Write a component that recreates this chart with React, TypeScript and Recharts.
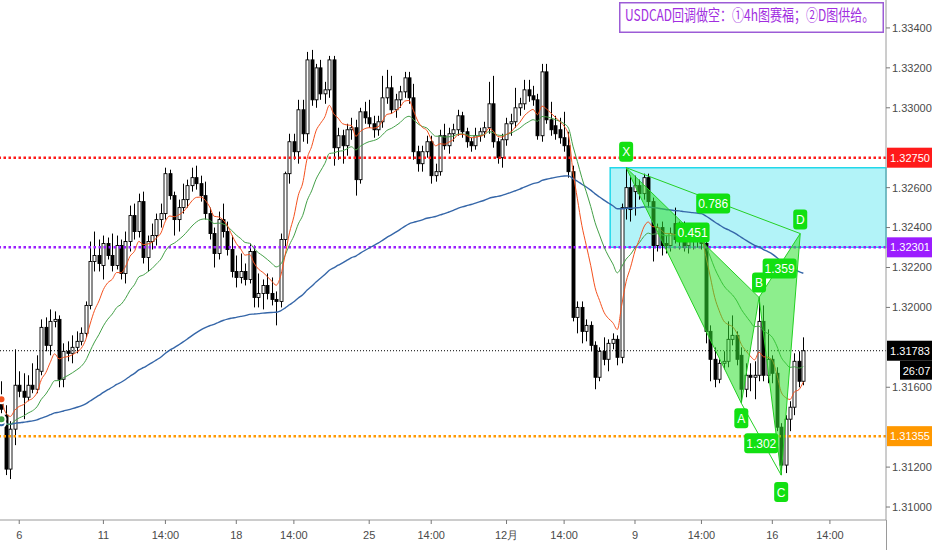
import React from 'react';
import {
  ComposedChart,
  XAxis,
  YAxis,
  Bar,
  Line,
  Scatter,
  ReferenceLine,
  ReferenceArea,
} from 'recharts';

// USDCAD 4h candles
const opens = [
  1.3155, 1.3146, 1.3119, 1.3139, 1.3161, 1.3158, 1.3155, 1.3161, 1.3159, 1.3168,
  1.3190, 1.3181, 1.3193, 1.3194, 1.3164, 1.3178, 1.3177, 1.3180, 1.3183, 1.3187,
  1.3201, 1.3223, 1.3226, 1.3221, 1.3232, 1.3226, 1.3221, 1.3231, 1.3217, 1.3233,
  1.3246, 1.3238, 1.3253, 1.3225, 1.3233, 1.3236, 1.3244, 1.3247, 1.3267, 1.3256,
  1.3244, 1.3250, 1.3254, 1.3261, 1.3265, 1.3262, 1.3256, 1.3247, 1.3237, 1.3227,
  1.3244, 1.3238, 1.3229, 1.3218, 1.3215, 1.3218, 1.3214, 1.3228, 1.3205, 1.3207,
  1.3211, 1.3207, 1.3204, 1.3203, 1.3234, 1.3267, 1.3283, 1.3278, 1.3299, 1.3287,
  1.3324, 1.3304, 1.3320, 1.3307, 1.3309, 1.3324, 1.3280, 1.3286, 1.3281, 1.3289,
  1.3290, 1.3264, 1.3298, 1.3295, 1.3292, 1.3289, 1.3293, 1.3305, 1.3310, 1.3299,
  1.3304, 1.3308, 1.3315, 1.3305, 1.3278, 1.3272, 1.3278, 1.3283, 1.3266, 1.3268,
  1.3286, 1.3281, 1.3287, 1.3289, 1.3296, 1.3288, 1.3283, 1.3281, 1.3286, 1.3288,
  1.3290, 1.3302, 1.3283, 1.3275, 1.3284, 1.3292, 1.3293, 1.3300, 1.3302, 1.3309,
  1.3306, 1.3304, 1.3286, 1.3318, 1.3294, 1.3291, 1.3289, 1.3285, 1.3281, 1.3268,
  1.3195, 1.3200, 1.3188, 1.3191, 1.3181, 1.3165, 1.3178, 1.3174, 1.3182, 1.3184,
  1.3175, 1.3250, 1.3260, 1.3258, 1.3261, 1.3257, 1.3265, 1.3253, 1.3231, 1.3240,
  1.3232, 1.3231, 1.3242, 1.3234, 1.3240, 1.3231, 1.3238, 1.3233, 1.3238, 1.3232,
  1.3188, 1.3174, 1.3164, 1.3172, 1.3173, 1.3184, 1.3186, 1.3176, 1.3159, 1.3166,
  1.3165, 1.3166, 1.3193, 1.3166, 1.3174, 1.3167, 1.3140, 1.3121, 1.3144, 1.3150,
  1.3173, 1.3163,
];
const highs = [
  1.3163, 1.3151, 1.3143, 1.3179, 1.3168, 1.3167, 1.3166, 1.3172, 1.3176, 1.3194,
  1.3195, 1.3199, 1.3198, 1.3196, 1.3182, 1.3183, 1.3186, 1.3188, 1.3190, 1.3203,
  1.3233, 1.3238, 1.3234, 1.3236, 1.3235, 1.3237, 1.3236, 1.3234, 1.3238, 1.3251,
  1.3252, 1.3257, 1.3258, 1.3236, 1.3242, 1.3247, 1.3252, 1.3270, 1.3269, 1.3258,
  1.3254, 1.3262, 1.3264, 1.3270, 1.3271, 1.3266, 1.3263, 1.3250, 1.3240, 1.3248,
  1.3252, 1.3243, 1.3236, 1.3226, 1.3227, 1.3222, 1.3232, 1.3231, 1.3217, 1.3214,
  1.3217, 1.3215, 1.3208, 1.3237, 1.3268, 1.3287, 1.3287, 1.3304, 1.3304, 1.3328,
  1.3329, 1.3322, 1.3324, 1.3313, 1.3326, 1.3326, 1.3290, 1.3289, 1.3292, 1.3295,
  1.3294, 1.3300, 1.3303, 1.3304, 1.3296, 1.3296, 1.3316, 1.3319, 1.3316, 1.3307,
  1.3311, 1.3318, 1.3318, 1.3312, 1.3281, 1.3281, 1.3286, 1.3286, 1.3272, 1.3289,
  1.3292, 1.3290, 1.3292, 1.3299, 1.3298, 1.3290, 1.3285, 1.3290, 1.3290, 1.3293,
  1.3313, 1.3316, 1.3285, 1.3287, 1.3295, 1.3297, 1.3310, 1.3305, 1.3314, 1.3314,
  1.3311, 1.3307, 1.3322, 1.3322, 1.3303, 1.3296, 1.3295, 1.3298, 1.3288, 1.3271,
  1.3203, 1.3203, 1.3194, 1.3193, 1.3183, 1.3180, 1.3185, 1.3184, 1.3187, 1.3186,
  1.3252, 1.3270, 1.3266, 1.3266, 1.3264, 1.3267, 1.3267, 1.3255, 1.3242, 1.3243,
  1.3236, 1.3240, 1.3250, 1.3243, 1.3243, 1.3241, 1.3241, 1.3241, 1.3240, 1.3234,
  1.3191, 1.3180, 1.3174, 1.3178, 1.3193, 1.3196, 1.3188, 1.3180, 1.3172, 1.3172,
  1.3173, 1.3205, 1.3201, 1.3189, 1.3176, 1.3170, 1.3142, 1.3146, 1.3153, 1.3177,
  1.3178, 1.3185,
];
const lows = [
  1.3147, 1.3116, 1.3114, 1.3131, 1.3155, 1.3144, 1.3153, 1.3157, 1.3157, 1.3166,
  1.3178, 1.3176, 1.3190, 1.3160, 1.3160, 1.3173, 1.3172, 1.3177, 1.3181, 1.3185,
  1.3199, 1.3218, 1.3218, 1.3214, 1.3224, 1.3218, 1.3219, 1.3214, 1.3212, 1.3228,
  1.3234, 1.3235, 1.3222, 1.3218, 1.3229, 1.3231, 1.3240, 1.3244, 1.3254, 1.3236,
  1.3238, 1.3247, 1.3250, 1.3258, 1.3259, 1.3253, 1.3244, 1.3234, 1.3220, 1.3224,
  1.3235, 1.3226, 1.3215, 1.3210, 1.3212, 1.3211, 1.3212, 1.3200, 1.3200, 1.3199,
  1.3204, 1.3201, 1.3191, 1.3200, 1.3230, 1.3262, 1.3274, 1.3272, 1.3283, 1.3282,
  1.3301, 1.3300, 1.3304, 1.3302, 1.3305, 1.3271, 1.3274, 1.3272, 1.3276, 1.3284,
  1.3256, 1.3262, 1.3292, 1.3290, 1.3285, 1.3286, 1.3290, 1.3302, 1.3297, 1.3295,
  1.3300, 1.3305, 1.3302, 1.3274, 1.3268, 1.3268, 1.3275, 1.3262, 1.3263, 1.3266,
  1.3279, 1.3277, 1.3283, 1.3286, 1.3285, 1.3280, 1.3278, 1.3279, 1.3283, 1.3285,
  1.3287, 1.3280, 1.3272, 1.3270, 1.3281, 1.3286, 1.3290, 1.3296, 1.3299, 1.3303,
  1.3301, 1.3284, 1.3283, 1.3292, 1.3286, 1.3284, 1.3282, 1.3278, 1.3265, 1.3193,
  1.3187, 1.3182, 1.3183, 1.3178, 1.3159, 1.3163, 1.3171, 1.3168, 1.3179, 1.3171,
  1.3172, 1.3244, 1.3243, 1.3246, 1.3254, 1.3254, 1.3250, 1.3223, 1.3228, 1.3226,
  1.3227, 1.3228, 1.3232, 1.3229, 1.3228, 1.3227, 1.3229, 1.3230, 1.3229, 1.3182,
  1.3163, 1.3160, 1.3162, 1.3169, 1.3170, 1.3181, 1.3171, 1.3152, 1.3155, 1.3158,
  1.3154, 1.3163, 1.3163, 1.3162, 1.3162, 1.3138, 1.3116, 1.3117, 1.3138, 1.3146,
  1.3160, 1.3161,
];
const closes = [
  1.3149, 1.3119, 1.3139, 1.3161, 1.3158, 1.3155, 1.3161, 1.3159, 1.3169, 1.3190,
  1.3181, 1.3193, 1.3194, 1.3164, 1.3178, 1.3177, 1.3180, 1.3183, 1.3187, 1.3201,
  1.3223, 1.3226, 1.3222, 1.3232, 1.3226, 1.3221, 1.3231, 1.3217, 1.3233, 1.3246,
  1.3238, 1.3253, 1.3225, 1.3233, 1.3236, 1.3244, 1.3247, 1.3267, 1.3256, 1.3244,
  1.3250, 1.3254, 1.3261, 1.3265, 1.3262, 1.3256, 1.3247, 1.3237, 1.3227, 1.3244,
  1.3238, 1.3229, 1.3218, 1.3215, 1.3218, 1.3214, 1.3228, 1.3205, 1.3207, 1.3211,
  1.3207, 1.3204, 1.3203, 1.3234, 1.3267, 1.3283, 1.3278, 1.3299, 1.3287, 1.3324,
  1.3304, 1.3320, 1.3307, 1.3309, 1.3324, 1.3280, 1.3286, 1.3281, 1.3289, 1.3290,
  1.3264, 1.3298, 1.3295, 1.3292, 1.3289, 1.3293, 1.3305, 1.3310, 1.3299, 1.3304,
  1.3308, 1.3315, 1.3305, 1.3278, 1.3272, 1.3278, 1.3283, 1.3266, 1.3268, 1.3286,
  1.3281, 1.3287, 1.3289, 1.3296, 1.3288, 1.3283, 1.3281, 1.3286, 1.3288, 1.3290,
  1.3302, 1.3283, 1.3275, 1.3284, 1.3292, 1.3293, 1.3300, 1.3302, 1.3309, 1.3306,
  1.3304, 1.3286, 1.3318, 1.3294, 1.3289, 1.3287, 1.3285, 1.3281, 1.3268, 1.3195,
  1.3200, 1.3188, 1.3191, 1.3181, 1.3165, 1.3178, 1.3174, 1.3182, 1.3184, 1.3175,
  1.3250, 1.3260, 1.3249, 1.3261, 1.3257, 1.3265, 1.3253, 1.3231, 1.3240, 1.3231,
  1.3231, 1.3237, 1.3234, 1.3240, 1.3230, 1.3237, 1.3233, 1.3237, 1.3232, 1.3188,
  1.3174, 1.3164, 1.3172, 1.3173, 1.3184, 1.3186, 1.3174, 1.3159, 1.3166, 1.3165,
  1.3166, 1.3193, 1.3166, 1.3174, 1.3167, 1.3140, 1.3121, 1.3144, 1.3150, 1.3173,
  1.3163, 1.31783,
];

// moving averages: periods, and their values at the left edge of the picture
const maPeriods = [9, 20, 100];
const maSeeds = [1.3154, 1.3144, 1.3142];

const xTickIndex = [4, 23, 37, 53, 66, 83, 97, 114, 127, 143, 158, 174, 187];
const xTickLabels = ['6', '11', '14:00', '18', '14:00', '25', '14:00', '12月', '14:00', '9', '14:00', '16', '14:00'];
// 1.314, 1.318 and 1.328 sit under the price tags
const yTicks = [1.31, 1.312, 1.316, 1.32, 1.322, 1.324, 1.326, 1.33, 1.332, 1.334];

const levelPrices = [1.3275, 1.32301, 1.31783, 1.31355];
const countdown = '26:07';

// supply zone
const zoneStart = 137.4;
const zoneTop = 1.327;
const zoneBottom = 1.32301;

// harmonic pattern
const patternNames = ['X', 'A', 'B', 'C', 'D'];
const patternIndex = [141, 167, 171, 176, 180.3];
const patternPrice = [1.327, 1.3152, 1.3205, 1.3116, 1.3237];
const ratioLabels = ['0.451', '1.302', '1.359', '0.786'];
const ratioPairs = [[0, 2], [1, 3], [2, 4], [0, 4]];

const title = 'USDCAD回调做空：①4h图赛福；②D图供给。';

const X_DOMAIN = [-0.34, 199.66];
const Y_DOMAIN = [1.30935, 1.3354];

const levelColors = ['#ff1a1a', '#9b1dff', '#000000', '#ff9800'];
const levelWidths = [2.5, 2.5, 1, 2.5];
const letterShift = [-16, 15, -15, 17, -14];
const ratioShift = [0, 4, 3, 3];

function ema(values: number[], period: number, seed: number) {
  const k = 2 / (period + 1);
  let prev = seed;
  return values.map((v, idx) => {
    if (idx > 0) prev = prev + k * (v - prev);
    return prev;
  });
}

const fastMa = ema(closes, maPeriods[0], maSeeds[0]);
const midMa = ema(closes, maPeriods[1], maSeeds[1]);
const slowMa = ema(closes, maPeriods[2], maSeeds[2]);

const rows = closes.map((c, i) => ({
  i,
  open: opens[i],
  high: highs[i],
  low: lows[i],
  close: c,
  fast: fastMa[i],
  mid: midMa[i],
  slow: slowMa[i],
}));

const pt = (k: number) => ({ i: patternIndex[k], p: patternPrice[k] });
const triXAB = [pt(0), pt(1), pt(2)];
const triBCD = [pt(2), pt(3), pt(4)];
const lineXD = [pt(0), pt(4)];
const lineAC = [pt(1), pt(3)];
const letterPoints = patternNames.map((name, k) => ({ ...pt(k), text: name, shift: letterShift[k] }));
const ratioPoints = ratioLabels.map((text, k) => {
  const [a, b] = ratioPairs[k];
  return {
    i: (patternIndex[a] + patternIndex[b]) / 2,
    p: (patternPrice[a] + patternPrice[b]) / 2,
    text,
    shift: ratioShift[k],
  };
});

const Candle = (props: any) => {
  const { x, y, width, height, payload } = props;
  if (x == null || payload == null) return null;
  const top = Math.min(y, y + height);
  const h = Math.abs(height);
  const span = payload.high - payload.low || 1e-9;
  const py = (v: number) => top + ((payload.high - v) / span) * h;
  const cx = Math.round(x + width / 2) + 0.5;
  const up = payload.close >= payload.open;
  const bTop = py(Math.max(payload.open, payload.close));
  const bBot = py(Math.min(payload.open, payload.close));
  return (
    <g>
      <line x1={cx} x2={cx} y1={top} y2={top + h} stroke="#000" strokeWidth={1} />
      <rect
        x={cx - 1.5}
        y={bTop}
        width={3}
        height={Math.max(bBot - bTop, 1)}
        fill={up ? '#fff' : '#000'}
        stroke="#000"
        strokeWidth={0.9}
      />
    </g>
  );
};

const PriceTag = (props: any) => {
  const { viewBox, text, bg, sub } = props;
  if (!viewBox) return null;
  const x = viewBox.x + viewBox.width;
  const y = viewBox.y;
  return (
    <g>
      <rect x={x + 1} y={y - 10} width={46} height={20} fill={bg} />
      <text x={x + 24} y={y + 4} textAnchor="middle" fill="#fff" fontSize={11} fontFamily="Liberation Sans">
        {text}
      </text>
      {sub && (
        <g>
          <rect x={x + 14} y={y + 10} width={33} height={19} fill="#000" />
          <text x={x + 30.5} y={y + 24} textAnchor="middle" fill="#fff" fontSize={11} fontFamily="Liberation Sans">
            {sub}
          </text>
        </g>
      )}
    </g>
  );
};

const polygonLine = (lp: any) => {
  const pts = (lp.points || []).map((q: any) => `${q.x},${q.y}`).join(' ');
  return <polygon points={pts} fill="#2fe02f" fillOpacity={0.55} stroke="#24d024" strokeWidth={1} />;
};

const TagBox = (w: number) => (props: any) => {
  const { cx, cy, payload } = props;
  if (cx == null) return <g />;
  const yc = cy + payload.shift;
  return (
    <g>
      <rect x={cx - w / 2} y={yc - 10} width={w} height={20} rx={3} fill="#12e012" />
      <text x={cx} y={yc + 4.5} textAnchor="middle" fill="#fff" fontSize={12} fontFamily="Liberation Sans">
        {payload.text}
      </text>
    </g>
  );
};

const hidden = () => <g />;

export default function App() {
  return (
    <div style={{ position: 'relative', width: 932, height: 550, background: '#fff' }}>
      <style>{'body{margin:0;background:#fff}'}</style>
      <ComposedChart width={932} height={550} data={rows} margin={{ top: 0, right: 0, bottom: 0, left: 0 }}>
        <XAxis
          dataKey="i"
          type="number"
          domain={X_DOMAIN}
          allowDataOverflow
          ticks={xTickIndex}
          interval={0}
          tickFormatter={(v: number) => xTickLabels[xTickIndex.indexOf(v)] ?? ''}
          height={30}
          tickSize={4}
          tickMargin={7}
          tick={{ fontSize: 11, fill: '#4a4a4a', fontFamily: 'Liberation Sans' }}
          axisLine={{ stroke: '#9a9a9a' }}
          tickLine={{ stroke: '#777' }}
        />
        <YAxis
          orientation="right"
          type="number"
          domain={Y_DOMAIN}
          allowDataOverflow
          ticks={yTicks}
          interval={0}
          tickFormatter={(v: number) => v.toFixed(5)}
          width={46}
          tickSize={4}
          tick={{ fontSize: 11, fill: '#4a4a4a', fontFamily: 'Liberation Sans' }}
          axisLine={{ stroke: '#9a9a9a' }}
          tickLine={{ stroke: '#777' }}
        />
        <ReferenceArea
          x1={zoneStart}
          x2={X_DOMAIN[1]}
          y1={zoneBottom}
          y2={zoneTop}
          fill="#00d8e8"
          fillOpacity={0.3}
          stroke="#22d8ea"
          strokeWidth={1.5}
          ifOverflow="visible"
        />
        {levelPrices.map((p, k) => (
          <ReferenceLine
            key={p}
            y={p}
            stroke={levelColors[k]}
            strokeWidth={levelWidths[k]}
            strokeDasharray={k === 2 ? '1 2' : '2.5 2.5'}
            ifOverflow="visible"
            label={<PriceTag text={p.toFixed(5)} bg={levelColors[k]} sub={k === 2 ? countdown : undefined} />}
          />
        ))}
        <Bar dataKey={(d: any) => [d.low, d.high]} barSize={3} shape={Candle} isAnimationActive={false} />
        <Line dataKey="slow" type="monotone" stroke="#3566a8" strokeWidth={1.4} dot={false} isAnimationActive={false} />
        <Line dataKey="mid" type="monotone" stroke="#43a047" strokeWidth={1} dot={false} isAnimationActive={false} />
        <Line dataKey="fast" type="monotone" stroke="#f4511e" strokeWidth={1} dot={false} isAnimationActive={false} />
        <Scatter data={triXAB} dataKey="p" line={polygonLine} lineType="joint" shape={hidden} isAnimationActive={false} />
        <Scatter data={triBCD} dataKey="p" line={polygonLine} lineType="joint" shape={hidden} isAnimationActive={false} />
        <Scatter data={lineXD} dataKey="p" line={{ stroke: '#24d024', strokeWidth: 1 }} lineType="joint" shape={hidden} isAnimationActive={false} />
        <Scatter data={lineAC} dataKey="p" line={{ stroke: '#24d024', strokeWidth: 1 }} lineType="joint" shape={hidden} isAnimationActive={false} />
        <Scatter data={ratioPoints} dataKey="p" shape={TagBox(34)} isAnimationActive={false} />
        <Scatter data={letterPoints} dataKey="p" shape={TagBox(14)} isAnimationActive={false} />
      </ComposedChart>
      <div style={{ position: 'absolute', left: 886, top: 520, width: 1, height: 30, background: '#9a9a9a' }} />
      <svg style={{ position: 'absolute', left: 619, top: 0 }} width={266} height={40}>
        <rect x={0.75} y={2.75} width={263.5} height={29.5} fill="#fff" stroke="#9c5cd6" strokeWidth={1.5} />
        <text
          x={6}
          y={16}
          transform="translate(0,0.7) scale(1,1.3)"
          fill="#a12ee0"
          fontSize={12}
          fontFamily="'Noto Sans CJK SC', 'Noto Sans'"
        >
          {title}
        </text>
      </svg>
    </div>
  );
}
